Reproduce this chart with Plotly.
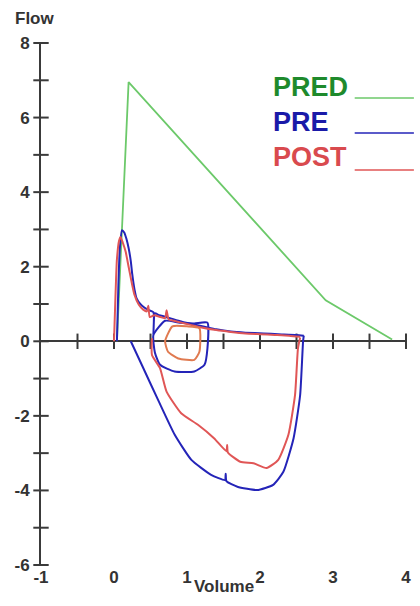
import plotly.graph_objects as go

# ---------------- data ----------------
pred_vol = [0.04, 0.20, 2.90, 3.81]
pred_flow = [0.0, 6.95, 1.10, 0.05]

pre_exp_vol = [0.04, 0.06, 0.08, 0.11, 0.14, 0.17, 0.20, 0.23, 0.25, 0.28, 0.31, 0.36, 0.42, 0.47, 0.54,
               0.54, 0.56, 0.62, 0.70, 0.80, 0.92, 1.05, 1.24, 1.40, 1.60, 1.80, 2.05, 2.25, 2.50, 2.60]
pre_exp_flow = [0.0, 1.5, 2.5, 2.98, 2.92, 2.75, 2.5, 2.15, 1.8, 1.4, 1.15, 1.0, 0.9, 0.84, 0.78,
                0.2, 0.75, 0.7, 0.66, 0.6, 0.53, 0.47, 0.39, 0.32, 0.26, 0.23, 0.21, 0.19, 0.17, 0.15]
pre_insp_vol = [2.60, 2.59, 2.55, 2.46, 2.32, 2.18, 1.96, 1.69, 1.54, 1.53, 1.52, 1.33, 1.06, 0.83,
                0.61, 0.38, 0.23]
pre_insp_flow = [0.15, 0.0, -1.44, -2.6, -3.5, -3.85, -3.99, -3.9, -3.75, -3.55, -3.72, -3.58, -3.18,
                 -2.5, -1.6, -0.63, 0.0]
pre_tidal_vol = [0.54, 0.56, 0.63, 0.83, 1.10, 1.24, 1.28, 1.28, 1.10, 0.90, 0.70, 0.54]
pre_tidal_flow = [0.17, -0.3, -0.63, -0.81, -0.81, -0.63, -0.19, 0.5, 0.48, 0.5, 0.55, 0.17]

post_exp_vol = [0.0, 0.02, 0.04, 0.07, 0.09, 0.12, 0.16, 0.20, 0.24, 0.28, 0.34, 0.40, 0.45, 0.47, 0.49,
                0.55, 0.62, 0.70, 0.72, 0.75, 0.82, 0.92, 1.05, 1.20, 1.40, 1.60, 1.80, 2.00, 2.20,
                2.40, 2.55]
post_exp_flow = [0.0, 1.2, 2.2, 2.7, 2.8, 2.65, 2.4, 2.0, 1.6, 1.25, 0.98, 0.85, 0.8, 0.95, 0.65,
                 0.7, 0.66, 0.62, 0.83, 0.58, 0.55, 0.5, 0.44, 0.37, 0.3, 0.25, 0.21, 0.19, 0.17,
                 0.15, 0.12]
post_insp_vol = [2.55, 2.52, 2.48, 2.39, 2.25, 2.09, 1.91, 1.73, 1.56, 1.55, 1.54, 1.37, 1.15, 0.92,
                 0.72, 0.63, 0.52, 0.52]
post_insp_flow = [0.1, -0.19, -1.44, -2.5, -3.18, -3.4, -3.27, -3.23, -2.98, -2.78, -2.95, -2.6, -2.24,
                  -1.93, -1.35, -0.72, -0.37, 0.08]
post_tidal_vol = [0.70, 0.74, 0.88, 1.10, 1.17, 1.17, 1.00, 0.80, 0.70]
post_tidal_flow = [0.0, -0.28, -0.46, -0.5, -0.28, 0.35, 0.4, 0.4, 0.0]

x_ticks = [-1, 0, 1, 2, 3, 4]
y_ticks = [-6, -4, -2, 0, 2, 4, 6, 8]
x_minor = [-0.5, 0, 0.5, 1, 1.5, 2, 2.5, 3, 3.5, 4]
y_minor = [-6, -5, -4, -3, -2, -1, 0, 1, 2, 3, 4, 5, 6, 7, 8]

legend_names = ["PRED", "PRE", "POST"]

GREEN = "#6cc96a"
BLUE = "#2424b8"
RED = "#e05656"
GREEN_T = "#1e8a2c"
BLUE_T = "#1a1aa8"
RED_T = "#d94a4e"
AXIS = "#3a3a3a"

W, H = 420, 606
ML, MR, MT, MB = 41, 9, 43, 41
PW, PH = W - ML - MR, H - MT - MB


def px(xp):
    return (xp - ML) / PW


def py(yp):
    return (H - MB - yp) / PH


fig = go.Figure()

# axis decoration: tick marks crossing axes
fig.add_trace(go.Scatter(x=[-1] * len(y_minor), y=y_minor, mode="markers",
                         marker=dict(symbol="line-ew-open", size=11, color=AXIS, line=dict(color=AXIS, width=2)),
                         cliponaxis=False, hoverinfo="skip", showlegend=False))
fig.add_trace(go.Scatter(x=x_minor, y=[0] * len(x_minor), mode="markers",
                         marker=dict(symbol="line-ns-open", size=11, color=AXIS, line=dict(color=AXIS, width=2)),
                         cliponaxis=False, hoverinfo="skip", showlegend=False))


def add_line(x, y, color, width=2, smooth=True):
    line = dict(color=color, width=width)
    if smooth:
        line.update(shape="spline", smoothing=0.5)
    fig.add_trace(go.Scatter(x=x, y=y, mode="lines", line=line,
                             hoverinfo="skip", showlegend=False, cliponaxis=False))


add_line(pred_vol, pred_flow, GREEN, 1.8, smooth=False)
add_line(pre_exp_vol, pre_exp_flow, BLUE)
add_line(pre_insp_vol, pre_insp_flow, BLUE)
add_line(pre_tidal_vol, pre_tidal_flow, BLUE)
add_line(post_exp_vol, post_exp_flow, RED)
add_line(post_insp_vol, post_insp_flow, RED)
add_line(post_tidal_vol, post_tidal_flow, "#e07a50")

# legend (text + line segment)
legend_colors_t = [GREEN_T, BLUE_T, RED_T]
legend_colors_l = [GREEN, BLUE, RED]
leg_y_text = [87, 122, 157]
leg_y_line = [98, 133, 170]
for name, ct, cl, yt, yl in zip(legend_names, legend_colors_t, legend_colors_l, leg_y_text, leg_y_line):
    fig.add_annotation(x=px(274), y=py(yt), xref="paper", yref="paper",
                       text=f"<b>{name}</b>", showarrow=False, xanchor="left", yanchor="middle",
                       font=dict(family="Liberation Sans, Arial", size=27, color=ct))
    fig.add_shape(type="line", xref="paper", yref="paper",
                  x0=px(359), x1=px(419), y0=py(yl), y1=py(yl),
                  line=dict(color=cl, width=1.5))

# axis titles
fig.add_annotation(x=px(13), y=py(18), xref="paper", yref="paper", text="<b>Flow</b>",
                   showarrow=False, xanchor="left", yanchor="middle",
                   font=dict(family="Liberation Sans, Arial", size=17, color="#333333"))
fig.add_annotation(x=px(227), y=py(586), xref="paper", yref="paper", text="<b>Volume</b>",
                   showarrow=False, xanchor="center", yanchor="middle",
                   font=dict(family="Liberation Sans, Arial", size=17, color="#333333"))

fig.update_layout(
    width=W, height=H,
    margin=dict(l=ML, r=MR, t=MT, b=MB),
    paper_bgcolor="white", plot_bgcolor="white",
    font=dict(family="Liberation Sans, Arial", size=17, color="#333333"),
    xaxis=dict(range=[-1, 4], tickvals=x_ticks, ticktext=[str(v) for v in x_ticks],
               showgrid=False, zeroline=False, showline=False, ticks="",
               tickfont=dict(size=17, color="#333333", weight="bold"), ticklabelstandoff=0),
    yaxis=dict(range=[-6, 8], tickvals=y_ticks, ticktext=[str(v) for v in y_ticks],
               showgrid=False, zeroline=True, zerolinecolor=AXIS, zerolinewidth=2,
               showline=True, linecolor=AXIS, linewidth=2, ticks="",
               tickfont=dict(size=17, color="#333333", weight="bold"), ticklabelstandoff=6),
    showlegend=False,
)

fig.write_html("out.html", config={"displayModeBar": False},
               post_script="document.body.style.margin='0';")
